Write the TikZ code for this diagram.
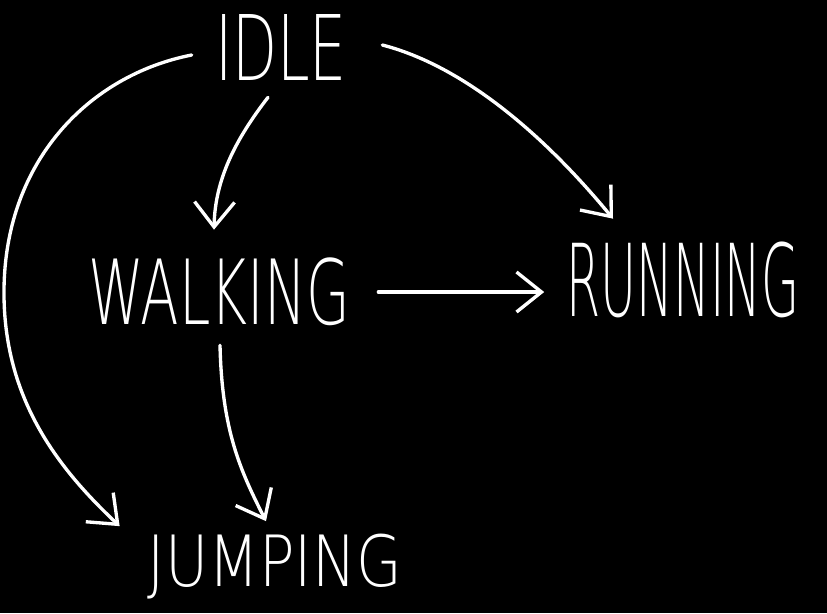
\documentclass[tikz,border=0pt]{standalone}
\usepackage{fontspec}
\usepackage{graphicx}
\newfontfamily\hand{DejaVu Sans ExtraLight}
\usetikzlibrary{arrows.meta}
\begin{document}
\begin{tikzpicture}[x=0.02cm,y=-0.02cm,
  lbl/.style={text=white, inner sep=0pt, font=\hand},
  link/.style={draw=white, line width=1.9pt, line cap=round, line join=round,
    -{Straight Barb[length=0.5cm,width=0.8cm,line width=1.9pt]}}]
\fill[black] (0,0) rectangle (827,613);
\useasboundingbox (0,0) rectangle (827,613);
\node[lbl] (idle) at (281,47) {\resizebox*{2.64cm}{1.32cm}{IDLE}};
\node[lbl] (walking) at (219,292) {\resizebox*{5.24cm}{1.36cm}{WALKING}};
\node[lbl] (running) at (683,280) {\resizebox*{4.66cm}{1.52cm}{RUNNING}};
\node[lbl] (jumping) at (275,567) {\resizebox*{5.08cm}{1.30cm}{JUMPING}};
\draw[link] ([shift={(-23,8)}]idle.west) .. controls (90,75) and (5,160) .. (4,290)
  .. controls (3,400) and (60,470) .. ([shift={(-28,-8)}]jumping.north west);
\draw[link] ([shift={(-13,17)}]idle.south) .. controls (235,140) and (215,180) .. ([shift={(-5,-28)}]walking.north);
\draw[link] ([shift={(35,-2)}]idle.east) .. controls (460,65) and (540,130) .. ([shift={(-70,-23)}]running.north);
\draw[link] ([shift={(28,0)}]walking.east) -- ([shift={(-22,12)}]running.west);
\draw[link] ([shift={(1,19)}]walking.south) .. controls (222,430) and (240,470) .. ([shift={(-9,-13)}]jumping.north);
\end{tikzpicture}
\end{document}
